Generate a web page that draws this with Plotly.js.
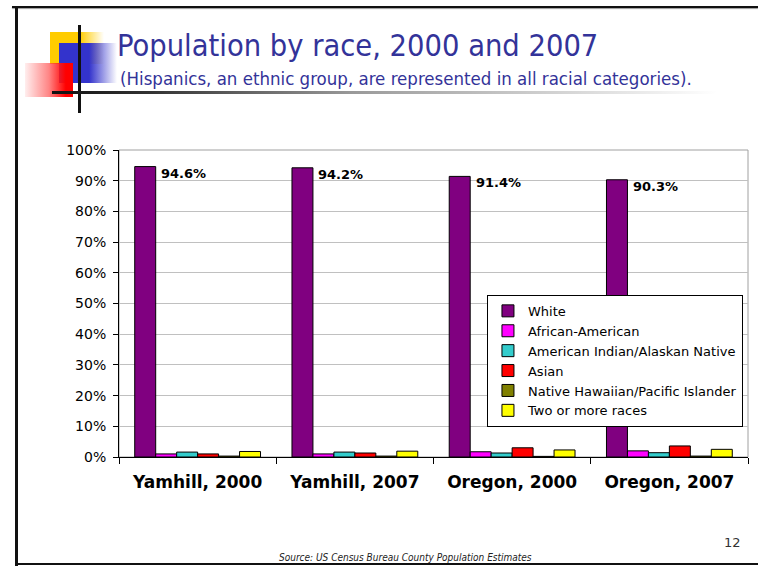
<!DOCTYPE html>
<html><head><meta charset="utf-8">
<script src="https://cdn.plot.ly/plotly-3.0.1.min.js"></script>
<style>
html,body{margin:0;padding:0;background:#fff;}
#wrap{position:relative;width:758px;height:566px;overflow:hidden;}
#chart{position:absolute;left:0;top:0;width:758px;height:566px;}
.d{position:absolute;pointer-events:none;}
</style></head>
<body>
<div id="wrap">
<div id="chart"></div>
<!-- slide frame -->
<div class="d" style="left:12px;top:6px;width:746px;height:2px;background:#111;box-shadow:0 1px 1px #999;"></div>
<div class="d" style="left:15px;top:6px;width:3px;height:560px;background:#111;"></div>
<div class="d" style="left:15px;top:563px;width:743px;height:2px;background:#111;"></div>
<!-- decoration squares -->
<div class="d" style="left:50px;top:32px;width:54px;height:32px;background:linear-gradient(to right,#FFCC00 0%,#FFCC00 55%,rgba(255,204,0,0) 100%);"></div>
<div class="d" style="left:59px;top:43px;width:58px;height:40px;background:linear-gradient(to right,#3333CC 0%,#3333CC 52%,rgba(51,51,204,0) 100%);"></div>
<div class="d" style="left:25px;top:63px;width:48px;height:34px;background:linear-gradient(to right,rgba(255,200,200,0.3) 0%,rgba(255,80,80,0.7) 50%,#FF0000 85%);"></div>
<div class="d" style="left:78px;top:25px;width:3px;height:88px;background:#111;"></div>
<div class="d" style="left:52px;top:91px;width:665px;height:3px;background:linear-gradient(to right,#111 0%,#333 15%,#999 45%,rgba(255,255,255,0) 100%);"></div>
</div>
<script>
var categories = ["Yamhill, 2000", "Yamhill, 2007", "Oregon, 2000", "Oregon, 2007"];
var seriesNames = ["White", "African-American", "American Indian/Alaskan Native", "Asian", "Native Hawaiian/Pacific Islander", "Two or more races"];
var white      = [94.6, 94.2, 91.4, 90.3];
var african    = [1.0, 1.0, 1.7, 2.0];
var amIndian   = [1.6, 1.6, 1.3, 1.4];
var asian      = [1.0, 1.3, 3.0, 3.6];
var hawaiian   = [0.3, 0.3, 0.2, 0.3];
var twoOrMore  = [1.8, 1.9, 2.3, 2.5];
var whiteLabels = ["94.6%", "94.2%", "91.4%", "90.3%"];
var yTickVals = [0,10,20,30,40,50,60,70,80,90,100];
var yTickText = ["0%","10%","20%","30%","40%","50%","60%","70%","80%","90%","100%"];
var colors = ["#800080", "#FF00FF", "#33CCCC", "#FF0000", "#808000", "#FFFF00"];

var allSeries = [white, african, amIndian, asian, hawaiian, twoOrMore];
var traces = allSeries.map(function(vals, i){
  return {
    type: "bar", x: categories, y: vals, name: seriesNames[i],
    legendgroup: "g" + i,
    marker: {color: colors[i], line: {color: "#000", width: 1}},
    hoverinfo: "skip"
  };
});

var font = "DejaVu Sans, Verdana, sans-serif";
var condensed = "DejaVu Sans Condensed, Liberation Sans Narrow, DejaVu Sans, sans-serif";

var annotations = categories.map(function(c, i){
  return {
    xref: "x", yref: "y", x: i - 0.245, y: white[i], text: whiteLabels[i],
    xanchor: "left", yanchor: "top", yshift: 3, showarrow: false,
    font: {family: font, size: 13, color: "#000", weight: "bold"}
  };
});
annotations.push({
  xref: "paper", yref: "paper", x: -0.0016, y: 1.272, xanchor: "left", yanchor: "top",
  text: "(Hispanics, an ethnic group, are represented in all racial categories).",
  showarrow: false, font: {family: condensed, size: 18.5, color: "#333399"}
});
annotations.push({
  xref: "paper", yref: "paper", x: 0.976, y: -0.28, xanchor: "center", yanchor: "middle",
  text: "12", showarrow: false, font: {family: font, size: 13, color: "#333"}
});
annotations.push({
  xref: "paper", yref: "paper", x: 0.456, y: -0.326, xanchor: "center", yanchor: "middle",
  text: "<i>Source: US Census Bureau County Population Estimates</i>", showarrow: false,
  font: {family: condensed, size: 10, color: "#222"}
});

var layout = {
  width: 758, height: 566,
  margin: {l: 119, r: 10, t: 150, b: 109, pad: 0},
  paper_bgcolor: "#fff", plot_bgcolor: "#fff",
  font: {family: font, size: 14, color: "#000"},
  title: {
    text: "Population by race, 2000 and 2007",
    xref: "container", yref: "container", x: 117/758, y: 1 - 35/566,
    xanchor: "left", yanchor: "top",
    font: {family: condensed, size: 30.5, color: "#333399"}
  },
  barmode: "group", bargap: 0.2, bargroupgap: 0,
  showlegend: true,
  legend: {
    x: 0.585, y: 0.528, xanchor: "left", yanchor: "top",
    bgcolor: "#fff", bordercolor: "#000", borderwidth: 1,
    font: {family: font, size: 13, color: "#000"},
    tracegroupgap: 2.5, traceorder: "normal", itemwidth: 30
  },
  xaxis: {
    type: "category", tickson: "boundaries", ticks: "outside", ticklen: 6, tickcolor: "#000",
    showline: true, linecolor: "#000", linewidth: 1, showgrid: false,
    tickfont: {family: font, size: 17, color: "#000", weight: "bold"},
    ticklabelstandoff: 10, fixedrange: true
  },
  yaxis: {
    range: [0, 100], tickvals: yTickVals, ticktext: yTickText,
    ticks: "outside", ticklen: 5, tickcolor: "#000",
    showline: true, linecolor: "#000", linewidth: 1,
    showgrid: true, gridcolor: "#C0C0C0", gridwidth: 1, zeroline: false,
    tickfont: {family: font, size: 14, color: "#000"},
    ticklabelstandoff: 4, fixedrange: true
  },
  shapes: [{
    type: "rect", xref: "paper", yref: "paper", x0: 0, x1: 1, y0: 0, y1: 1,
    line: {color: "#A0A0A0", width: 1}, layer: "below"
  }],
  annotations: annotations
};

Plotly.newPlot("chart", traces, layout, {staticPlot: true, displayModeBar: false});
</script>
</body></html>
